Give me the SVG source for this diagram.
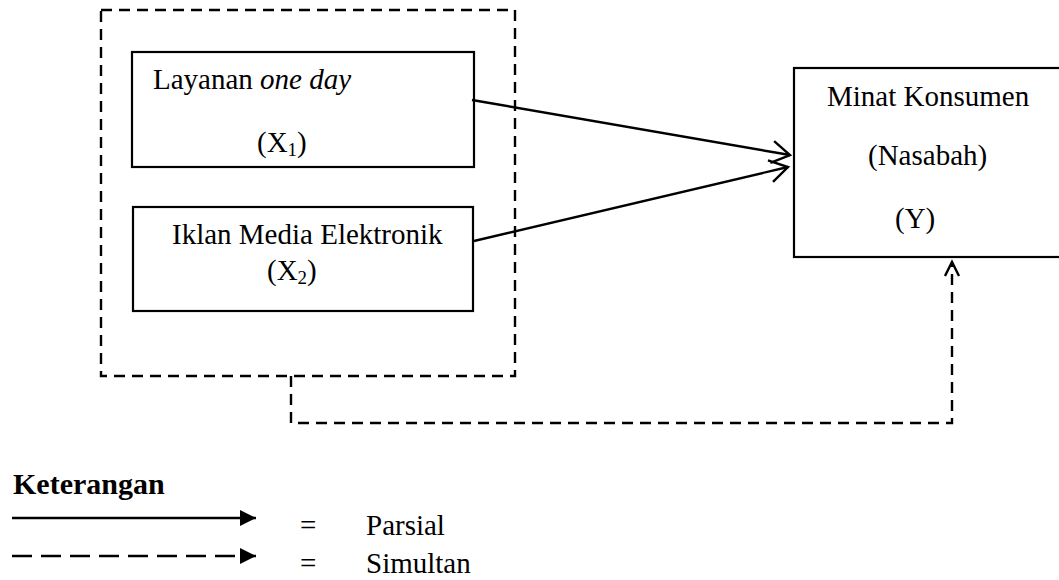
<svg xmlns="http://www.w3.org/2000/svg" width="1059" height="580" viewBox="0 0 1059 580">
  <style>
    .t { font-family: "Liberation Serif", "Times New Roman", serif; font-size: 29px; fill: #000; }
    .sub { font-size: 19px; }
    .b { font-weight: bold; font-size: 30px; }
    .box { fill: #fff; stroke: #000; stroke-width: 2.2; }
    .dash { fill: none; stroke: #000; stroke-width: 2.4; stroke-dasharray: 11 7; }
    .ln { fill: none; stroke: #000; stroke-width: 2.4; }
  </style>
  <defs>
    <marker id="open" markerUnits="userSpaceOnUse" markerWidth="22" markerHeight="26" refX="19" refY="12" orient="auto" viewBox="0 0 22 26">
      <path d="M1,1 L19,12 L1,23" fill="none" stroke="#000" stroke-width="2.4"/>
    </marker>
    <marker id="openS" markerUnits="userSpaceOnUse" markerWidth="18" markerHeight="18" refX="15" refY="8" orient="auto" viewBox="0 0 18 18">
      <path d="M1,1 L15,8 L1,15" fill="none" stroke="#000" stroke-width="2.4"/>
    </marker>
    <marker id="fill" markerUnits="userSpaceOnUse" markerWidth="16" markerHeight="16" refX="16" refY="8" orient="auto" viewBox="0 0 16 16">
      <path d="M0,0 L16,8 L0,16 Z" fill="#000"/>
    </marker>
  </defs>

  <g id="group-x">
    <rect x="101" y="10" width="414" height="366" class="dash"/>
  </g>

  <g id="node-x1">
    <rect x="132" y="52" width="342" height="115" class="box"/>
    <text class="t" x="153" y="89">Layanan <tspan font-style="italic">one day</tspan></text>
    <text class="t" x="257" y="152">(X<tspan class="sub" dy="4">1</tspan><tspan dy="-4">)</tspan></text>
  </g>

  <g id="node-x2">
    <rect x="133" y="207" width="340" height="104" class="box"/>
    <text class="t" x="172" y="244">Iklan Media Elektronik</text>
    <text class="t" x="267" y="280">(X<tspan class="sub" dy="4">2</tspan><tspan dy="-4">)</tspan></text>
  </g>

  <g id="node-y">
    <rect x="794" y="68" width="270" height="189" class="box"/>
    <text class="t" x="827" y="106">Minat Konsumen</text>
    <text class="t" x="868" y="165">(Nasabah)</text>
    <text class="t" x="895" y="228">(Y)</text>
  </g>

  <g id="connectors">
    <line x1="472" y1="100" x2="790" y2="155" class="ln" marker-end="url(#open)"/>
    <line x1="474" y1="241" x2="788" y2="167" class="ln" marker-end="url(#open)"/>
    <path d="M291,376 V423 H952 V262" class="dash" marker-end="url(#openS)"/>
  </g>

  <g id="legend">
    <text class="t b" x="13" y="494">Keterangan</text>
    <line x1="12" y1="518" x2="256" y2="518" class="ln" marker-end="url(#fill)"/>
    <line x1="12" y1="556" x2="256" y2="556" class="ln" stroke-dasharray="20 9" marker-end="url(#fill)"/>
    <text class="t" x="300" y="535">=</text>
    <text class="t" x="300" y="573">=</text>
    <text class="t" x="366" y="535">Parsial</text>
    <text class="t" x="366" y="573">Simultan</text>
  </g>
</svg>
